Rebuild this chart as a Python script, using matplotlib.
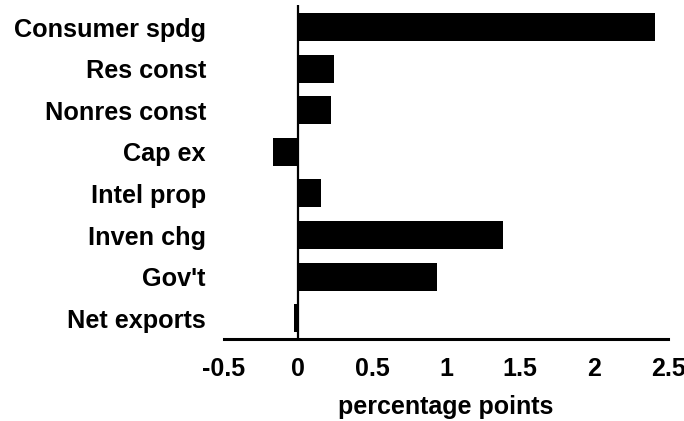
import matplotlib.pyplot as plt

categories = ["Consumer spdg", "Res const", "Nonres const", "Cap ex",
              "Intel prop", "Inven chg", "Gov't", "Net exports"]
values = [2.41, 0.24, 0.22, -0.17, 0.155, 1.385, 0.94, -0.03]
xticks = [-0.5, 0, 0.5, 1, 1.5, 2, 2.5]
xtick_labels = ["-0.5", "0", "0.5", "1", "1.5", "2", "2.5"]

plt.rcParams["font.family"] = ["Liberation Sans", "DejaVu Sans"]
plt.rcParams["font.weight"] = "bold"

fig = plt.figure(figsize=(6.84, 4.21), dpi=100)
ax = fig.add_axes([224 / 684, 1 - 339 / 421, (668 - 224) / 684, (339 - 5) / 421])

ypos = list(range(len(categories)))
ax.barh(ypos, values, height=0.67, color="black")
ax.axvline(0, color="black", linewidth=1.6)

ax.set_xlim(-0.5, 2.5)
ax.set_ylim(len(categories) - 0.5, -0.53)
ax.set_yticks(ypos)
ax.set_yticklabels(categories, fontsize=18.2, fontweight="bold")
ax.set_xticks(xticks)
ax.set_xticklabels(xtick_labels, fontsize=18, fontweight="bold")
ax.tick_params(axis="y", length=0, pad=13)
ax.tick_params(axis="x", length=0, pad=13)
ax.set_xlabel("percentage points", fontsize=18, fontweight="bold", labelpad=10)

for side in ["left", "right", "top"]:
    ax.spines[side].set_visible(False)
ax.spines["bottom"].set_linewidth(2.2)

fig.savefig("out.png", dpi=100)
